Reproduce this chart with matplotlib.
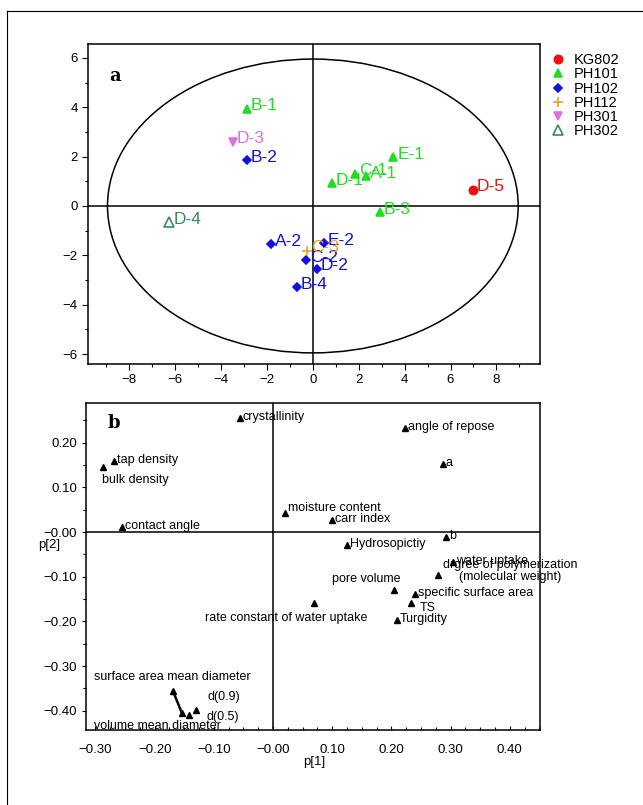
import numpy as np
import matplotlib
matplotlib.use("Agg")
import matplotlib.pyplot as plt
from matplotlib.patches import Ellipse
from matplotlib.lines import Line2D
from matplotlib.ticker import MultipleLocator, FixedLocator, FixedFormatter

plt.rcParams["font.family"] = ["Liberation Sans", "DejaVu Sans"]

# ---- panel a: scores (t[1], t[2]) ----
score_names = ["D-5", "B-1", "D-1", "C-1", "A-1", "E-1", "B-3",
               "B-2", "A-2", "E-2", "C-2", "D-2", "B-4",
               "C-3", "D-3", "D-4"]
score_t1 = [6.98, -2.88, 0.83, 1.85, 2.3, 3.5, 2.93,
            -2.88, -1.83, 0.48, -0.3, 0.17, -0.7,
            -0.26, -3.5, -6.25]
score_t2 = [0.65, 3.93, 0.93, 1.3, 1.2, 1.98, -0.25,
            1.86, -1.55, -1.5, -2.2, -2.55, -3.3,
            -1.82, 2.6, -0.65]
score_group = ["KG802", "PH101", "PH101", "PH101", "PH101", "PH101", "PH101",
               "PH102", "PH102", "PH102", "PH102", "PH102", "PH102",
               "PH112", "PH301", "PH302"]
groups = ["KG802", "PH101", "PH102", "PH112", "PH301", "PH302"]
ellipse_axes = (8.95, 5.95)

# ---- panel b: loadings (p[1], p[2]) ----
loading_names = ["crystallinity", "tap density", "bulk density", "contact angle",
                 "moisture content", "carr index", "angle of repose", "a", "b",
                 "Hydrosopictiy", "water uptake",
                 "drgree of polymerization\n(molecular weight)",
                 "pore volume", "specific surface area", "TS", "Turgidity",
                 "rate constant of water uptake", "surface area mean diameter",
                 "volume mean diameter", "d(0.9)", "d(0.5)"]
loading_p1 = [-0.056, -0.268, -0.287, -0.255, 0.02, 0.10, 0.223, 0.287, 0.293,
              0.125, 0.304, 0.278, 0.204, 0.24, 0.233, 0.209, 0.069,
              -0.169, -0.154, -0.130, -0.142]
loading_p2 = [0.255, 0.159, 0.145, 0.011, 0.042, 0.027, 0.233, 0.152, -0.011,
              -0.029, -0.067, -0.096, -0.130, -0.139, -0.159, -0.197, -0.159,
              -0.356, -0.405, -0.398, -0.409]

a_xticks = [-8, -6, -4, -2, 0, 2, 4, 6, 8]
a_yticks = [-6, -4, -2, 0, 2, 4, 6]
b_xticks = [-0.30, -0.20, -0.10, 0.0, 0.10, 0.20, 0.30, 0.40]
b_xlabels = ["\u22120.30", "\u22120.20", "\u22120.10", "\u22120.00",
             "0.10", "0.20", "0.30", "0.40"]
b_yticks = [0.20, 0.10, 0.0, -0.10, -0.20, -0.30, -0.40]
b_ylabels = ["0.20", "0.10", "\u22120.00", "\u22120.10", "\u22120.20",
             "\u22120.30", "\u22120.40"]

# styles
group_style = {
    "KG802": dict(marker="o", color="#ee1111", mfc="#ee1111", ms=6),
    "PH101": dict(marker="^", color="#22dd22", mfc="#22dd22", ms=6),
    "PH102": dict(marker="D", color="#1111dd", mfc="#1111dd", ms=4.5),
    "PH112": dict(marker="+", color="#f0a020", mfc="#f0a020", ms=7),
    "PH301": dict(marker="v", color="#e070e0", mfc="#e070e0", ms=6),
    "PH302": dict(marker="^", color="#3a8a5a", mfc="none", ms=7),
}

# label offsets in pixels (dx, dy, ha)
b_offsets = {
    "bulk density": (-1, -13, "left"),
    "moisture content": (3, 5, "left"),
    "pore volume": (7, 11, "right"),
    "TS": (9, -5, "left"),
    "rate constant of water uptake": (53, -15, "right"),
    "surface area mean diameter": (-79, 14, "left"),
    "volume mean diameter": (-88, -13, "left"),
    "d(0.9)": (11, 13, "left"),
    "d(0.5)": (18, -2, "left"),
    "drgree of polymerization\n(molecular weight)": (5, 4, "left"),
}

W, H = 643, 805
fig = plt.figure(figsize=(W / 100, H / 100), dpi=100)

# outer frame lines
fig.add_artist(Line2D([7 / W, 7 / W], [0, 1 - 11 / H], color="black", lw=0.8,
                      transform=fig.transFigure))
fig.add_artist(Line2D([7 / W, 1], [1 - 11 / H, 1 - 11 / H], color="black", lw=0.8,
                      transform=fig.transFigure))

# ---------------- panel a ----------------
ax = fig.add_axes([88 / W, 1 - 364 / H, 452 / W, 320 / H])
ax.set_xlim(-9.8, 9.9)
ax.set_ylim(-6.4, 6.56)
ax.axhline(0, color="black", lw=1.1, zorder=1)
ax.axvline(0, color="black", lw=1.1, zorder=1)
ax.add_patch(Ellipse((0, 0), 2 * ellipse_axes[0], 2 * ellipse_axes[1],
                     fill=False, color="black", lw=1.1))

for g in groups:
    st = group_style[g]
    idx = [i for i, s in enumerate(score_group) if s == g]
    ax.plot([score_t1[i] for i in idx], [score_t2[i] for i in idx], ls="none",
            marker=st["marker"], color=st["color"], mfc=st["mfc"], ms=st["ms"],
            mew=1.2, label=g, zorder=3)
    for i in idx:
        ax.annotate(score_names[i], (score_t1[i], score_t2[i]),
                    xytext=(4, 3), textcoords="offset pixels",
                    ha="left", va="center", fontsize=12.5, color=st["color"],
                    zorder=4)

ax.xaxis.set_major_locator(FixedLocator(a_xticks))
ax.yaxis.set_major_locator(FixedLocator(a_yticks))
ax.xaxis.set_minor_locator(MultipleLocator(1))
ax.yaxis.set_minor_locator(MultipleLocator(1))
ax.tick_params(which="both", direction="out", labelsize=9.5, width=0.8)
ax.tick_params(which="major", length=4)
ax.tick_params(which="minor", length=2.5)
for sp in ax.spines.values():
    sp.set_linewidth(1.1)
ax.text(0.048, 0.90, "a", transform=ax.transAxes, fontsize=13,
        fontweight="bold", family="DejaVu Serif", va="center")

ax.legend(loc="upper left", bbox_to_anchor=(1.01, 0.99), frameon=False,
          fontsize=10.5, handlelength=1.0, handletextpad=0.6, labelspacing=0.02,
          borderaxespad=0.0, markerscale=1.0)

# ---------------- panel b ----------------
bx = fig.add_axes([86 / W, 1 - 730 / H, 454 / W, 327 / H])
bx.set_xlim(-0.316, 0.451)
bx.set_ylim(-0.443, 0.289)
bx.axhline(0, color="black", lw=1.1, zorder=1)
bx.axvline(0, color="black", lw=1.1, zorder=1)

# connected markers near the size-distribution parameters
bx.plot([loading_p1[17], loading_p1[18]], [loading_p2[17], loading_p2[18]],
        color="black", lw=1.8, zorder=2)
bx.plot(loading_p1, loading_p2, ls="none", marker="^", color="black", ms=5, zorder=3)

for name, x, y in zip(loading_names, loading_p1, loading_p2):
    dx, dy, ha = b_offsets.get(name, (3, 1, "left"))
    bx.annotate(name, (x, y), xytext=(dx, dy), textcoords="offset pixels",
                ha=ha, va="center", fontsize=9, multialignment="center",
                linespacing=0.9, zorder=4)

bx.xaxis.set_major_locator(FixedLocator(b_xticks))
bx.xaxis.set_major_formatter(FixedFormatter(b_xlabels))
bx.yaxis.set_major_locator(FixedLocator(b_yticks))
bx.yaxis.set_major_formatter(FixedFormatter(b_ylabels))
bx.xaxis.set_minor_locator(MultipleLocator(0.025))
bx.yaxis.set_minor_locator(MultipleLocator(0.05))
bx.tick_params(axis="x", which="both", direction="in", labelsize=9.5, width=0.8,
               pad=10)
bx.tick_params(axis="y", which="both", direction="out", labelsize=9.5, width=0.8)
bx.tick_params(which="major", length=3)
bx.tick_params(which="minor", length=2)
for sp in bx.spines.values():
    sp.set_linewidth(1.1)
bx.text(0.048, 0.94, "b", transform=bx.transAxes, fontsize=13,
        fontweight="bold", family="DejaVu Serif", va="center")
bx.text(38 / W, 1 - 545 / H, "p[2]", transform=fig.transFigure, fontsize=9.5,
        ha="left", va="center")
bx.text(303 / W, 1 - 762 / H, "p[1]", transform=fig.transFigure, fontsize=9.5,
        ha="left", va="center")

fig.savefig("out.png", dpi=100)
